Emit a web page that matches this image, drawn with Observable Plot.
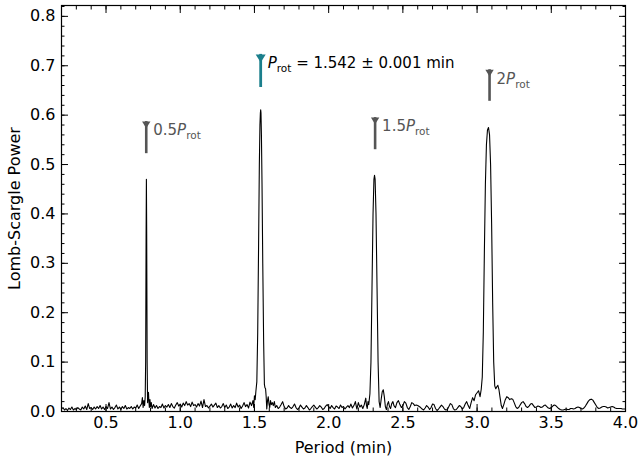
<!DOCTYPE html>
<html><head><meta charset="utf-8">
<script src="https://cdn.jsdelivr.net/npm/d3@7"></script>
<script src="https://cdn.jsdelivr.net/npm/@observablehq/plot@0.6"></script>
<style>
html,body{margin:0;padding:0;background:#fff;}
#chart svg{font-family:"DejaVu Sans",sans-serif;display:block;}
</style>
</head><body><div id="chart"></div>
<script>
// ---- Periodogram, in segments ----
const lowBandPeriod = [0.20,0.21,0.22,0.23,0.24,0.25,0.26,0.27,0.28,0.29,
  0.30,0.31,0.32,0.33,0.34,0.35,0.36,0.37,0.38,0.39,
  0.40,0.41,0.42,0.43,0.44,0.45,0.46,0.47,0.48,0.49,
  0.50,0.51,0.52,0.53,0.54,0.55,0.56,0.57,0.58,0.59,
  0.60,0.61,0.62,0.63,0.64,0.65,0.66,0.67,0.68,0.69,
  0.70,0.71,0.72,0.73,0.74];
const lowBandPower = [.005,.008,.003,.006,.002,.007,.004,.009,.003,.006,
  .004,.008,.005,.003,.009,.005,.011,.004,.016,.006,
  .008,.004,.009,.005,.010,.006,.012,.005,.009,.004,
  .010,.006,.018,.005,.009,.004,.008,.013,.005,.009,
  .004,.010,.006,.012,.005,.008,.006,.010,.005,.009,
  .007,.013,.006,.011,.016];

const halfPeakPeriod = [0.745,0.750,0.755,0.760,0.764,0.767,0.770,0.772,0.774,0.777,0.780,0.783,0.786,0.789,0.792,0.796,0.800,0.805,0.810];
const halfPeakPower  = [.028,.008,.022,.012,.030,.10,.36,.47,.36,.10,.018,.032,.039,.020,.008,.024,.010,.018,.006];

const midBandPeriod = [0.82,0.83,0.84,0.85,0.86,0.87,0.88,0.89,0.90,0.91,
  0.92,0.93,0.94,0.95,0.96,0.97,0.98,0.99,1.00,1.01,
  1.02,1.03,1.04,1.05,1.06,1.07,1.08,1.09,1.10,1.11,
  1.12,1.13,1.14,1.15,1.16,1.17,1.18,1.19,1.20,1.21,
  1.22,1.23,1.24,1.25,1.26,1.27,1.28,1.29,1.30,1.31,
  1.32,1.33,1.34,1.35,1.36,1.37,1.38,1.39,1.40,1.41,
  1.42,1.43,1.44,1.45,1.46,1.47,1.48,1.49];
const midBandPower = [.014,.007,.012,.006,.010,.008,.015,.007,.012,.009,
  .014,.008,.016,.010,.007,.013,.018,.011,.015,.009,
  .017,.012,.020,.013,.016,.010,.019,.012,.014,.009,
  .016,.011,.021,.008,.024,.010,.012,.007,.011,.015,
  .009,.013,.017,.008,.012,.007,.010,.016,.008,.013,
  .006,.009,.015,.007,.012,.008,.017,.009,.013,.006,
  .011,.018,.010,.014,.007,.019,.012,.022];

const rotPeakPeriod = [1.495,1.500,1.505,1.510,1.516,1.522,1.528,1.533,1.537,1.540,1.542,1.544,1.547,1.551,1.556,1.562,
  1.567,1.571,1.575,1.579,1.583,1.588,1.593,1.598,1.603,1.608,1.614,1.620,1.627,1.634,1.641,1.650];
const rotPeakPower = [.008,.032,.024,.042,.060,.16,.34,.50,.58,.605,.611,.605,.56,.46,.30,.14,
  .055,.048,.046,.030,.005,.022,.030,.015,.008,.022,.014,.018,.012,.020,.008,.012];

const band2Period = [1.66,1.67,1.68,1.69,1.70,1.71,1.72,1.73,1.74,1.75,
  1.76,1.77,1.78,1.79,1.80,1.81,1.82,1.83,1.84,1.85,
  1.86,1.87,1.88,1.89,1.90,1.91,1.92,1.93,1.94,1.95,
  1.96,1.97,1.98,1.99,2.00,2.01,2.02,2.03,2.04,2.05,
  2.06,2.07,2.08,2.09,2.10,2.11,2.12,2.13,2.14,2.15,
  2.16,2.17,2.18,2.19,2.20,2.21,2.22,2.23,2.24];
const band2Power = [.006,.009,.014,.020,.010,.005,.007,.012,.008,.006,
  .010,.015,.008,.004,.007,.013,.009,.005,.007,.012,
  .008,.003,.006,.010,.013,.009,.005,.008,.012,.009,
  .004,.006,.011,.014,.010,.006,.012,.008,.005,.011,
  .009,.006,.013,.008,.010,.005,.009,.012,.008,.015,
  .007,.012,.020,.005,.018,.009,.013,.006,.014];

const oneHalfPeakPeriod = [2.250,2.255,2.260,2.265,2.270,2.278,2.285,2.292,2.299,2.305,2.309,2.313,2.319,2.326,2.333,
  2.340,2.347,2.354,2.361,2.368,2.375,2.382,2.389,2.396,2.403,2.410,2.417,2.425,2.433,2.440];
const oneHalfPeakPower = [.027,.012,.006,.020,.014,.036,.10,.25,.40,.47,.478,.47,.40,.25,.10,
  .020,.008,.025,.040,.044,.030,.010,.004,.015,.020,.010,.006,.016,.020,.012];

const band3Period = [2.45,2.46,2.47,2.48,2.49,2.50,2.51,2.52,2.53,2.54,
  2.55,2.56,2.57,2.58,2.59,2.60,2.61,2.62,2.63,2.64,
  2.65,2.66,2.67,2.68,2.69,2.70,2.71,2.72,2.73,2.74,
  2.75,2.76,2.77,2.78,2.79,2.80,2.81,2.82,2.83,2.84,
  2.85,2.86,2.87,2.88,2.89,2.90,2.91,2.92,2.93,2.94,
  2.95,2.96,2.97,2.98,2.99];
const band3Power = [.008,.018,.022,.014,.008,.012,.020,.017,.008,.004,
  .010,.018,.016,.012,.013,.012,.010,.008,.005,.003,
  .007,.012,.009,.004,.008,.015,.014,.006,.002,.005,
  .009,.013,.010,.005,.003,.004,.010,.016,.014,.006,
  .003,.004,.008,.012,.010,.005,.008,.015,.020,.012,
  .006,.018,.028,.022,.034];

const twoPeakPeriod = [3.000,3.010,3.020,3.028,3.035,3.042,3.049,3.056,3.063,3.070,3.077,3.084,3.091,3.098,3.105,3.112,
  3.119,3.126,3.133,3.140,3.147,3.155,3.163,3.171,3.180,3.190,3.200,3.210,3.220,3.230,3.240,3.250,3.260];
const twoPeakPower = [.038,.042,.030,.045,.07,.16,.32,.46,.54,.57,.575,.56,.50,.38,.22,.10,
  .052,.046,.050,.053,.045,.028,.012,.006,.014,.024,.030,.028,.024,.026,.025,.018,.010];

const tailPeriod = [3.27,3.28,3.29,3.30,3.31,3.32,3.33,3.34,3.35,3.36,
  3.37,3.38,3.39,3.40,3.41,3.42,3.43,3.44,3.45,3.46,
  3.47,3.48,3.49,3.50,3.51,3.52,3.53,3.54,3.55,3.56,
  3.57,3.58,3.59,3.60,3.61,3.62,3.63,3.64,3.65,3.66,
  3.67,3.68,3.69,3.70,3.71,3.72,3.73,3.74,3.75,3.76,
  3.77,3.78,3.79,3.80,3.81,3.82,3.83,3.84,3.85,3.86,
  3.87,3.88,3.89,3.90,3.91,3.92,3.93,3.94,3.95,3.96,
  3.97,3.98,3.99,4.00];
const tailPower = [.006,.008,.013,.018,.020,.016,.010,.008,.011,.015,
  .016,.012,.008,.009,.011,.010,.008,.009,.012,.013,
  .010,.007,.006,.008,.011,.013,.012,.009,.006,.004,
  .003,.003,.004,.005,.004,.004,.006,.006,.005,.006,
  .008,.009,.008,.006,.005,.007,.011,.016,.021,.024,
  .025,.023,.018,.013,.008,.006,.007,.009,.010,.010,
  .009,.007,.008,.009,.010,.009,.007,.006,.006,.006,
  .006,.005,.005,.005];

// ---- Harmonic markers ----
const markerPeriod = [0.771, 1.542, 2.313, 3.084];
const markerBase   = [0.522, 0.656, 0.530, 0.628];
const markerTip    = [0.587, 0.723, 0.595, 0.692];
const markerPrefix = ["0.5", "", "1.5", "2"];
const markerSuffix = ["", " = 1.542 \u00b1 0.001 min", "", ""];
const markerIsMain = [false, true, false, false];

// ---- Ticks ----
const xMajorTicks = [0.5, 1.0, 1.5, 2.0, 2.5, 3.0, 3.5, 4.0];
const xTickLabels = ["0.5", "1.0", "1.5", "2.0", "2.5", "3.0", "3.5", "4.0"];
const yMajorTicks = [0.0, 0.1, 0.2, 0.3, 0.4, 0.5, 0.6, 0.7, 0.8];
const yTickLabels = ["0.0", "0.1", "0.2", "0.3", "0.4", "0.5", "0.6", "0.7", "0.8"];
const xMinorTicks = d3.range(2, 41).map(i => i / 10);
const yMinorTicks = d3.range(0, 42).map(i => i / 50);

// ---- Build tables ----
const period = [].concat(lowBandPeriod, halfPeakPeriod, midBandPeriod, rotPeakPeriod, band2Period,
  oneHalfPeakPeriod, band3Period, twoPeakPeriod, tailPeriod);
const power = [].concat(lowBandPower, halfPeakPower, midBandPower, rotPeakPower, band2Power,
  oneHalfPeakPower, band3Power, twoPeakPower, tailPower);
const spectrum = period.map((p, i) => ({period: p, power: power[i]}));
const markers = markerPeriod.map((p, i) => ({
  period: p, base: markerBase[i], tip: markerTip[i],
  label: markerPrefix[i] + "\u00a7" + markerSuffix[i], main: markerIsMain[i]
}));

const TEAL = "#1b7f8c", GRAY = "#555555";
const triDown = {draw(ctx, size) {
  const r = Math.sqrt(size / Math.PI);
  ctx.moveTo(-r, 0); ctx.lineTo(r, 0); ctx.lineTo(0, r * 1.6); ctx.closePath();
}};
const xFmt = d => xTickLabels[xMajorTicks.indexOf(d)];
const yFmt = d => yTickLabels[yMajorTicks.findIndex(v => Math.abs(v - d) < 1e-9)];

const chart = Plot.plot({
  width: 638, height: 462,
  marginLeft: 61, marginRight: 13, marginTop: 5, marginBottom: 51,
  x: {domain: [0.2, 4.0]},
  y: {domain: [0, 0.822]},
  style: {fontFamily: "DejaVu Sans, sans-serif", fontSize: "16px", color: "black", background: "white"},
  marks: [
    Plot.line(spectrum, {x: "period", y: "power", stroke: "black", strokeWidth: 1.1}),
    // markers
    Plot.ruleX(markers, {filter: d => !d.main, x: "period", y1: "base", y2: "tip", stroke: GRAY, strokeWidth: 2.6}),
    Plot.ruleX(markers, {filter: d => d.main, x: "period", y1: "base", y2: "tip", stroke: TEAL, strokeWidth: 2.8}),
    Plot.dot(markers, {filter: d => !d.main, x: "period", y: "tip", symbol: triDown, r: 4.2, fill: GRAY, stroke: "none"}),
    Plot.dot(markers, {filter: d => d.main, x: "period", y: "tip", symbol: triDown, r: 5, fill: TEAL, stroke: "none"}),
    Plot.text(markers, {filter: d => !d.main, x: "period", y: "tip", text: "label", dx: 7, dy: 9, textAnchor: "start", lineAnchor: "middle", fill: GRAY, fontSize: 15}),
    Plot.text(markers, {filter: d => d.main, x: "period", y: "tip", text: "label", dx: 7, dy: 9, textAnchor: "start", lineAnchor: "middle", fill: "black", fontSize: 15}),
    // axes: major
    Plot.axisX({anchor: "bottom", ticks: xMajorTicks, tickSize: -7, tickPadding: 12, tickFormat: xFmt,
      label: "Period (min)", labelAnchor: "center", labelArrow: "none", labelOffset: 41}),
    Plot.axisX({anchor: "top", ticks: xMajorTicks, tickSize: -7, tickFormat: () => "", label: null}),
    Plot.axisY({anchor: "left", ticks: yMajorTicks, tickSize: -7, tickPadding: 13, tickFormat: yFmt,
      label: "Lomb-Scargle Power", labelAnchor: "center", labelArrow: "none", labelOffset: 53}),
    Plot.axisY({anchor: "right", ticks: yMajorTicks, tickSize: -7, tickFormat: () => "", label: null}),
    // axes: minor
    Plot.axisX({anchor: "bottom", ticks: xMinorTicks, tickSize: -3.5, tickFormat: () => "", label: null}),
    Plot.axisX({anchor: "top", ticks: xMinorTicks, tickSize: -3.5, tickFormat: () => "", label: null}),
    Plot.axisY({anchor: "left", ticks: yMinorTicks, tickSize: -3.5, tickFormat: () => "", label: null}),
    Plot.axisY({anchor: "right", ticks: yMinorTicks, tickSize: -3.5, tickFormat: () => "", label: null}),
    Plot.frame({stroke: "black", strokeWidth: 1.2})
  ]
});

// Rich text for the marker labels: prefix, italic P, subscript "rot", suffix
const NS = "http://www.w3.org/2000/svg";
chart.querySelectorAll("text").forEach(t => {
  if (!t.textContent.includes("\u00a7")) return;
  const [pre, suf] = t.textContent.split("\u00a7");
  t.textContent = "";
  const add = (s, attrs) => {
    const ts = document.createElementNS(NS, "tspan");
    ts.textContent = s;
    for (const k in attrs) ts.setAttribute(k, attrs[k]);
    t.appendChild(ts);
  };
  if (pre) add(pre, {});
  add("P", {"font-style": "italic"});
  add("rot", {"font-size": "10.5px", "dy": "4"});
  if (suf) add(suf, {"dy": "-4"});
});

document.getElementById("chart").appendChild(chart);
</script>
</body></html>
